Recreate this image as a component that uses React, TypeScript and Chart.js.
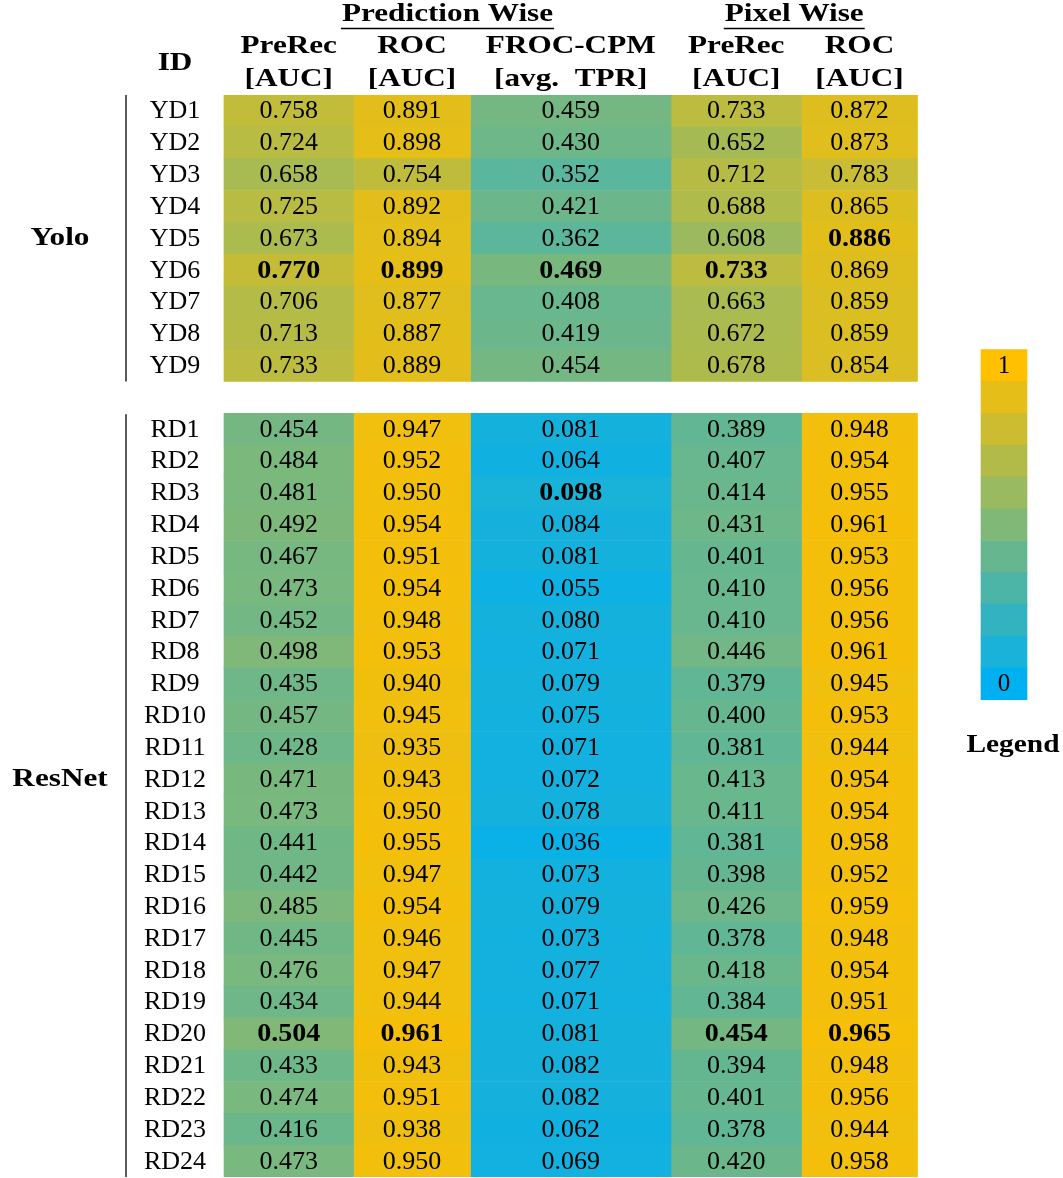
import React, { useEffect, useRef } from "react";
import { Chart, registerables } from "chart.js";

Chart.register(...registerables);

// ---------------- data ----------------
const yoloIds = ["YD1", "YD2", "YD3", "YD4", "YD5", "YD6", "YD7", "YD8", "YD9"];
const resnetIds = [
  "RD1", "RD2", "RD3", "RD4", "RD5", "RD6", "RD7", "RD8", "RD9", "RD10", "RD11", "RD12",
  "RD13", "RD14", "RD15", "RD16", "RD17", "RD18", "RD19", "RD20", "RD21", "RD22", "RD23", "RD24",
];
const gapLabel = "__gap__";
const rowLabels = [...yoloIds, gapLabel, ...resnetIds];

const groupNames = ["Yolo", "ResNet"];
const headerGroups = ["Prediction Wise", "Pixel Wise"];
const columnTitles = ["PreRec", "ROC", "FROC-CPM", "PreRec", "ROC"];
const columnUnits = ["[AUC]", "[AUC]", "[avg.  TPR]", "[AUC]", "[AUC]"];

const yoloPredPreRec = [0.758, 0.724, 0.658, 0.725, 0.673, 0.770, 0.706, 0.713, 0.733];
const yoloPredRoc = [0.891, 0.898, 0.754, 0.892, 0.894, 0.899, 0.877, 0.887, 0.889];
const yoloFroc = [0.459, 0.430, 0.352, 0.421, 0.362, 0.469, 0.408, 0.419, 0.454];
const yoloPixPreRec = [0.733, 0.652, 0.712, 0.688, 0.608, 0.733, 0.663, 0.672, 0.678];
const yoloPixRoc = [0.872, 0.873, 0.783, 0.865, 0.886, 0.869, 0.859, 0.859, 0.854];

const resnetPredPreRec = [
  0.454, 0.484, 0.481, 0.492, 0.467, 0.473, 0.452, 0.498, 0.435, 0.457, 0.428, 0.471,
  0.473, 0.441, 0.442, 0.485, 0.445, 0.476, 0.434, 0.504, 0.433, 0.474, 0.416, 0.473,
];
const resnetPredRoc = [
  0.947, 0.952, 0.950, 0.954, 0.951, 0.954, 0.948, 0.953, 0.940, 0.945, 0.935, 0.943,
  0.950, 0.955, 0.947, 0.954, 0.946, 0.947, 0.944, 0.961, 0.943, 0.951, 0.938, 0.950,
];
const resnetFroc = [
  0.081, 0.064, 0.098, 0.084, 0.081, 0.055, 0.080, 0.071, 0.079, 0.075, 0.071, 0.072,
  0.078, 0.036, 0.073, 0.079, 0.073, 0.077, 0.071, 0.081, 0.082, 0.082, 0.062, 0.069,
];
const resnetPixPreRec = [
  0.389, 0.407, 0.414, 0.431, 0.401, 0.410, 0.410, 0.446, 0.379, 0.400, 0.381, 0.413,
  0.411, 0.381, 0.398, 0.426, 0.378, 0.418, 0.384, 0.454, 0.394, 0.401, 0.378, 0.420,
];
const resnetPixRoc = [
  0.948, 0.954, 0.955, 0.961, 0.953, 0.956, 0.956, 0.961, 0.945, 0.953, 0.944, 0.954,
  0.954, 0.958, 0.952, 0.959, 0.948, 0.954, 0.951, 0.965, 0.948, 0.956, 0.944, 0.958,
];

// best (bold) entry per column
const yoloBest = ["YD6", "YD6", "YD6", "YD6", "YD5"];
const resnetBest = ["RD20", "RD20", "RD3", "RD20", "RD20"];

const legendSteps = [1, 0.9, 0.8, 0.7, 0.6, 0.5, 0.4, 0.3, 0.2, 0.1, 0];
const legendTickLabels = ["1", "", "", "", "", "", "", "", "", "", "0"];
const legendTitle = "Legend";

// ---------------- layout ----------------
const W = 1063;
const H = 1178;
const colEdges = [224, 353.5, 470.5, 671, 801.5, 917.5];
const legendEdges = [981, 1027];
const legendStartRow = 8;
const idX = 175;
const groupLabelX = 60;
const ruleX = 126;
const SERIF = '"Liberation Serif", "DejaVu Serif", serif';
const BOLD_STRETCH = 1.2;

const yoloSeries = [yoloPredPreRec, yoloPredRoc, yoloFroc, yoloPixPreRec, yoloPixRoc];
const resnetSeries = [resnetPredPreRec, resnetPredRoc, resnetFroc, resnetPixPreRec, resnetPixRoc];

function ramp(v: number): string {
  const a = [0, 176, 240];
  const b = [255, 192, 0];
  const t = Math.max(0, Math.min(1, v));
  const c = a.map((s, i) => Math.round(s + (b[i] - s) * t));
  return `rgb(${c[0]},${c[1]},${c[2]})`;
}

function boldText(ctx: CanvasRenderingContext2D, t: string, x: number, y: number, sx = BOLD_STRETCH) {
  ctx.save();
  ctx.font = `bold 26px ${SERIF}`;
  ctx.textAlign = "center";
  ctx.translate(x, y);
  ctx.scale(sx, 1);
  ctx.fillText(t, 0, 0);
  const w = ctx.measureText(t).width * sx;
  ctx.restore();
  return w;
}

const tablePlugin = {
  id: "tableText",
  afterDatasetsDraw(chart: any) {
    const ctx: CanvasRenderingContext2D = chart.ctx;
    const xs = chart.scales.x;
    const ys = chart.scales.y;
    const rowH = ys.getPixelForValue(1) - ys.getPixelForValue(0);
    const rowC = (label: string) => ys.getPixelForValue(rowLabels.indexOf(label));
    ctx.save();
    ctx.fillStyle = "#000";
    ctx.textAlign = "center";
    ctx.textBaseline = "alphabetic";

    // cell texts
    chart.data.datasets.forEach((ds: any, di: number) => {
      const meta = chart.getDatasetMeta(di);
      meta.data.forEach((el: any, i: number) => {
        const raw = ds.data[i];
        const p = el.getProps(["x", "base", "y"], true);
        const cx = (p.x + p.base) / 2;
        if (ds.isLegend) {
          const t = legendTickLabels[i];
          if (t) {
            ctx.font = `25px ${SERIF}`;
            ctx.fillText(t, cx, p.y + 7.5);
          }
        } else if (raw.best) {
          boldText(ctx, raw.v.toFixed(3), cx, p.y + 7.5, 1.08);
        } else {
          ctx.font = `26px ${SERIF}`;
          ctx.fillText(raw.v.toFixed(3), cx, p.y + 7.5);
        }
      });
    });

    // row ids
    ctx.font = `26px ${SERIF}`;
    rowLabels.forEach((lab) => {
      if (lab === gapLabel) return;
      ctx.fillText(lab, idX, rowC(lab) + 7.5);
    });

    // group labels & rules
    const groups = [yoloIds, resnetIds];
    groups.forEach((ids, gi) => {
      const top = rowC(ids[0]) - rowH / 2;
      const bot = rowC(ids[ids.length - 1]) + rowH / 2;
      ctx.strokeStyle = "#000";
      ctx.lineWidth = 1.3;
      ctx.beginPath();
      ctx.moveTo(ruleX, top + (gi === 1 ? 1 : 0));
      ctx.lineTo(ruleX, bot);
      ctx.stroke();
      const mid = ids[Math.floor((ids.length - 1) / 2)];
      boldText(ctx, groupNames[gi], groupLabelX, rowC(mid) + 7);
    });

    // headers
    const colCenter = (c: number) => xs.getPixelForValue((colEdges[c] + colEdges[c + 1]) / 2);
    columnTitles.forEach((t, c) => boldText(ctx, t, colCenter(c), 53));
    columnUnits.forEach((t, c) => boldText(ctx, t, colCenter(c), 86));
    boldText(ctx, "ID", idX, 70);
    const spans = [[0, 2], [3, 4]];
    headerGroups.forEach((t, gi) => {
      const l = xs.getPixelForValue(colEdges[spans[gi][0]]);
      const r = xs.getPixelForValue(colEdges[spans[gi][1] + 1]);
      const cx = (l + r) / 2;
      const w = boldText(ctx, t, cx, 21);
      ctx.strokeStyle = "#000";
      ctx.lineWidth = 1.3;
      ctx.beginPath();
      ctx.moveTo(cx - w / 2 - 1, 28.5);
      ctx.lineTo(cx + w / 2 + 1, 28.5);
      ctx.stroke();
    });

    // legend title
    boldText(ctx, legendTitle, 1013, 752, 1.13);
    ctx.restore();
  },
};

export default function App() {
  const ref = useRef<HTMLCanvasElement | null>(null);
  useEffect(() => {
    if (!ref.current) return;
    const cellSets = columnTitles.map((title, c) => {
      const data = [
        ...yoloIds.map((id, i) => ({
          y: id,
          x: [colEdges[c], colEdges[c + 1]],
          v: yoloSeries[c][i],
          best: yoloBest[c] === id,
        })),
        ...resnetIds.map((id, i) => ({
          y: id,
          x: [colEdges[c], colEdges[c + 1]],
          v: resnetSeries[c][i],
          best: resnetBest[c] === id,
        })),
      ];
      return {
        label: title,
        data,
        backgroundColor: (ctx: any) => ramp(ctx.raw ? ctx.raw.v : 0),
        borderWidth: 0,
        grouped: false,
        barPercentage: 1,
        categoryPercentage: 1,
      };
    });
    const legendSet = {
      label: legendTitle,
      isLegend: true,
      data: legendSteps.map((s, i) => ({ y: rowLabels[legendStartRow + i], x: legendEdges, v: s })),
      backgroundColor: (ctx: any) => ramp(ctx.raw ? ctx.raw.v : 0),
      borderWidth: 0,
      grouped: false,
      barPercentage: 1,
      categoryPercentage: 1,
    };
    const chart = new Chart(ref.current, {
      type: "bar",
      data: { labels: rowLabels, datasets: [...cellSets, legendSet] as any },
      options: {
        indexAxis: "y",
        responsive: false,
        maintainAspectRatio: false,
        animation: false,
        layout: { padding: { top: 95, bottom: 1, left: 0, right: 0 } },
        scales: {
          x: { type: "linear", min: 0, max: W, display: false },
          y: { type: "category", display: false, offset: true },
        },
        plugins: { legend: { display: false }, tooltip: { enabled: false } },
      } as any,
      plugins: [tablePlugin],
    });
    return () => chart.destroy();
  }, []);
  return (
    <div style={{ position: "absolute", left: 0, top: 0, width: W, height: H, background: "#fff" }}>
      <canvas ref={ref} width={W} height={H} style={{ display: "block" }} />
    </div>
  );
}
